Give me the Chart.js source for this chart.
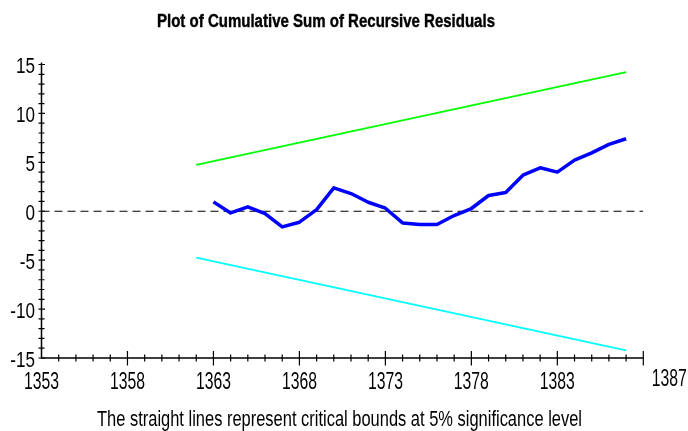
<!DOCTYPE html>
<html><head><meta charset="utf-8">
<script src="https://cdn.jsdelivr.net/npm/chart.js@4/dist/chart.umd.min.js"></script>
<style>html,body{margin:0;padding:0;background:#fff}#wrap{width:688px;height:431px;position:relative}</style>
</head><body><div id="wrap"><canvas id="c" width="688" height="431"></canvas></div>
<script>
const titleText = 'Plot of Cumulative Sum of Recursive Residuals';
const captionText = 'The straight lines represent critical bounds at 5% significance level';
const years = [1363,1364,1365,1366,1367,1368,1369,1370,1371,1372,1373,1374,1375,1376,1377,1378,1379,1380,1381,1382,1383,1384,1385,1386,1387];
const cusum = [0.96,-0.17,0.45,-0.24,-1.6,-1.12,0.17,2.39,1.81,0.92,0.31,-1.19,-1.36,-1.36,-0.44,0.28,1.61,1.91,3.69,4.44,4.0,5.22,5.97,6.83,7.41];
const boundYears = [1362,1387];
const upperBound = [4.74,14.22];
const lowerBound = [-4.74,-14.22];
const zeroLineYears = [1353,1388];
const xMajorTicks = [1353,1358,1363,1368,1373,1378,1383];
const xEndLabel = '1387';
const yMajorTicks = [15,10,5,0,-5,-10,-15];
const X_MIN = 1353, X_MAX = 1388, Y_MIN = -15, Y_MAX = 15;

const FONT = '"Liberation Sans", Arial, sans-serif';
function pts(xs, ys){ return xs.map((x,i)=>({x:x,y:ys[i]})); }
function drawFit(ctx, text, x, y, font, width, align, stroke){
  ctx.save();
  ctx.font = font;
  const w = ctx.measureText(text).width;
  const s = width / w;
  ctx.translate(x, y);
  ctx.scale(s, 1);
  ctx.textAlign = align; ctx.textBaseline = 'alphabetic';
  ctx.fillStyle = '#000';
  ctx.fillText(text, 0, 0);
  if (stroke){ ctx.strokeStyle = '#000'; ctx.lineWidth = stroke; ctx.strokeText(text, 0, 0); }
  ctx.restore();
}
function drawScaled(ctx, text, x, y, font, s, align){
  ctx.save();
  ctx.font = font;
  ctx.translate(x, y);
  ctx.scale(s, 1);
  ctx.textAlign = align; ctx.textBaseline = 'alphabetic';
  ctx.fillStyle = '#000';
  ctx.fillText(text, 0, 0);
  ctx.restore();
}

const axesPlugin = {
  id: 'axesPlugin',
  afterDraw(chart){
    const ctx = chart.ctx, xs = chart.scales.x, ys = chart.scales.y;
    const x0 = xs.getPixelForValue(X_MIN), x1 = xs.getPixelForValue(X_MAX);
    const yb = ys.getPixelForValue(Y_MIN), yt = ys.getPixelForValue(Y_MAX);
    ctx.save();
    ctx.strokeStyle = '#000'; ctx.lineWidth = 1.5;
    ctx.beginPath();
    ctx.moveTo(x0, yt - 2); ctx.lineTo(x0, yb);
    ctx.lineTo(x1, yb);
    ctx.stroke();
    ctx.lineWidth = 1.2;
    ctx.beginPath();
    for (let v = X_MIN; v <= X_MAX; v++){
      const p = xs.getPixelForValue(v);
      const major = xMajorTicks.includes(v) || v === X_MAX;
      if (v === X_MIN) continue;
      if (major){ ctx.moveTo(p, yb - 7); ctx.lineTo(p, yb + 7.5); }
      else { ctx.moveTo(p, yb - 3.5); ctx.lineTo(p, yb + 3.5); }
    }
    for (let v = Y_MIN; v <= Y_MAX; v++){
      const p = ys.getPixelForValue(v);
      const major = yMajorTicks.includes(v);
      if (major){ ctx.moveTo(x0 - 3, p); ctx.lineTo(x0 + 3.5, p); }
      else { ctx.moveTo(x0 - 3, p); ctx.lineTo(x0 + 3, p); }
    }
    ctx.stroke();
    ctx.restore();
    // x labels
    const xFont = '24px ' + FONT;
    ctx.save(); ctx.font = xFont;
    const xs4 = 35 / ctx.measureText('1383').width; ctx.restore();
    xMajorTicks.forEach(v => {
      drawScaled(ctx, String(v), xs.getPixelForValue(v), yb + 30.5, xFont, xs4, 'center');
    });
    drawScaled(ctx, xEndLabel, x1 + 26, yb + 27.5, xFont, xs4, 'center');
    // y labels
    const yFont = '22px ' + FONT;
    ctx.save(); ctx.font = yFont;
    const ys2 = 19 / ctx.measureText('15').width; ctx.restore();
    yMajorTicks.forEach(v => {
      drawScaled(ctx, String(v), x0 - 6.5, ys.getPixelForValue(v) + 8.5, yFont, ys2, 'right');
    });
    // title & caption
    drawFit(ctx, titleText, 326, 27, 'bold 17.5px ' + FONT, 338, 'center', 0.4);
    drawFit(ctx, captionText, 339.5, 425.5, '22px ' + FONT, 485, 'center');
  }
};

new Chart(document.getElementById('c'), {
  type: 'scatter',
  data: { datasets: [
    { data: pts(zeroLineYears,[0,0]), showLine:true, borderColor:'#000', borderWidth:1.2, borderDash:[8,5], pointRadius:0, order:4 },
    { data: pts(boundYears, upperBound), showLine:true, borderColor:'#00ff00', borderWidth:1.6, pointRadius:0, order:3 },
    { data: pts(boundYears, lowerBound), showLine:true, borderColor:'#00ffff', borderWidth:1.6, pointRadius:0, order:2 },
    { data: pts(years, cusum), showLine:true, borderColor:'#0000ff', borderWidth:3.5, pointRadius:0, borderJoinStyle:'round', order:1 }
  ]},
  options: {
    responsive:false, animation:false, devicePixelRatio:1,
    layout:{ padding:{ left:41.5, right:44.7, top:64.5, bottom:73 } },
    plugins:{ legend:{display:false}, tooltip:{enabled:false}, title:{display:false} },
    scales:{
      x:{ type:'linear', min:X_MIN, max:X_MAX, display:false },
      y:{ type:'linear', min:Y_MIN, max:Y_MAX, display:false }
    }
  },
  plugins:[axesPlugin]
});
</script>
</body></html>
